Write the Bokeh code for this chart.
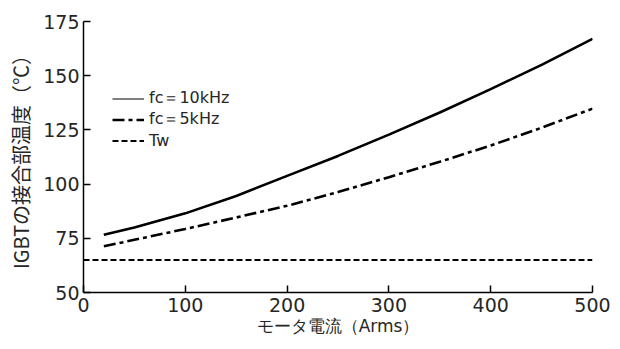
from bokeh.plotting import figure
from bokeh.models import Range1d, Legend, LegendItem, FixedTicker
from bokeh.embed import file_html
from bokeh.resources import INLINE

# ---- data ----
current = [20, 50, 100, 150, 200, 250, 300, 350, 400, 450, 500]
fc_10k = [76.6, 80.0, 86.5, 94.5, 103.8, 113.0, 122.8, 133.0, 143.8, 155.0, 167.0]
fc_5k = [71.3, 74.3, 79.3, 84.6, 90.0, 96.3, 103.2, 110.3, 117.8, 126.0, 134.8]
tw_x = [0, 500]
tw_y = [65, 65]
x_ticks = [0, 100, 200, 300, 400, 500]
y_ticks = [50, 75, 100, 125, 150, 175]
labels = ["fc＝10kHz", "fc＝5kHz", "Tw"]

FONT = "Noto Sans CJK JP"
NUMFONT = "DejaVu Sans"
TXT = "#262626"

p = figure(width=612, height=341, output_backend="svg", toolbar_location=None,
           x_range=Range1d(0, 500), y_range=Range1d(50, 175),
           min_border_left=83, min_border_right=20, min_border_top=21, min_border_bottom=49)
p.outline_line_color = None
p.grid.grid_line_color = None
p.background_fill_color = "white"
p.border_fill_color = "white"

for ax in (p.xaxis[0], p.yaxis[0]):
    ax.axis_line_color = "black"
    ax.axis_line_width = 1.5
    ax.major_tick_line_color = "black"
    ax.major_tick_line_width = 1.5
    ax.major_tick_in = 7
    ax.major_tick_out = 0
    ax.minor_tick_line_color = None
    ax.major_label_text_font = NUMFONT
    ax.major_label_text_font_size = "19px"
    ax.major_label_text_color = TXT
    ax.axis_label_text_font_style = "normal"
    ax.axis_label_text_color = TXT

p.xaxis.ticker = FixedTicker(ticks=x_ticks)
p.yaxis.ticker = FixedTicker(ticks=y_ticks)
p.xaxis.axis_label = "モータ電流（Arms）"
p.yaxis.axis_label = "IGBTの接合部温度（℃）"
p.xaxis.axis_label_text_font = NUMFONT
p.yaxis.axis_label_text_font = FONT
p.xaxis.axis_label_text_font_size = "17px"
p.yaxis.axis_label_text_font_size = "20px"
p.xaxis.major_label_standoff = 5
p.yaxis.major_label_standoff = 4
p.xaxis.axis_label_standoff = 1
p.yaxis.axis_label_standoff = 5

# thin line for legend only (hidden under the thick one)
r10_leg = p.line(current, fc_10k, line_color="black", line_width=1.2)
r10 = p.line(current, fc_10k, line_color="black", line_width=2.6)
r5 = p.line(current, fc_5k, line_color="black", line_width=2.6, line_dash="12 4 4 4")
rtw = p.line(tw_x, tw_y, line_color="black", line_width=2.2, line_dash="6 3")

legend = Legend(items=[LegendItem(label=labels[0], renderers=[r10_leg]),
                       LegendItem(label=labels[1], renderers=[r5]),
                       LegendItem(label=labels[2], renderers=[rtw])],
                location=(29, 141), padding=0, margin=0, spacing=0,
                glyph_width=32, glyph_height=21, label_height=21,
                label_standoff=5,
                label_text_font=NUMFONT, label_text_font_size="16px",
                label_text_color=TXT,
                border_line_color=None, background_fill_alpha=0)
p.add_layout(legend)

open("out.html", "w").write(file_html(p, INLINE))
